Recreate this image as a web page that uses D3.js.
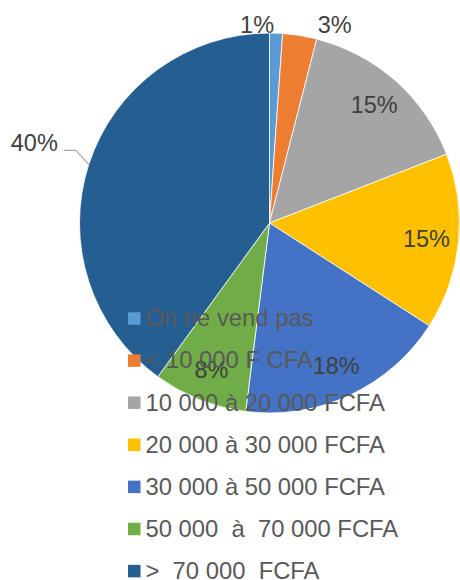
<!DOCTYPE html>
<html>
<head>
<meta charset="utf-8">
<script src="https://cdn.jsdelivr.net/npm/d3@7"></script>
<style>
  body { margin: 0; background: #fff; }
  svg { display: block; font-family: Arial, "Liberation Sans", sans-serif; }
</style>
</head>
<body>
<svg id="pie" width="460" height="580"></svg>
<script>
const categories = [
  "On ne vend pas",
  "< 10 000 F CFA",
  "10 000 à 20 000 FCFA",
  "20 000 à 30 000 FCFA",
  "30 000 à 50 000 FCFA",
  "50 000  à  70 000 FCFA",
  ">  70 000  FCFA"
];
const values = [1.1, 2.9, 15.1, 15.0, 17.9, 8.0, 40.0];
const labels = ["1%", "3%", "15%", "15%", "18%", "8%", "40%"];
const colors = ["#5b9bd5", "#ed7d31", "#a5a5a5", "#ffc000", "#4472c4", "#70ad47", "#255e91"];

const svg = d3.select('#pie');
const cx = 269.5, cy = 223, radius = 190;

const data = categories.map((c, i) => ({ name: c, value: values[i], label: labels[i], color: colors[i] }));

const pie = d3.pie().sort(null).value(d => d.value);
const arcs = pie(data);
const arc = d3.arc().innerRadius(0).outerRadius(radius);
const inner = d3.arc().innerRadius(0).outerRadius(radius * 1.66);
const outer = d3.arc().innerRadius(radius).outerRadius(radius);

const g = svg.append('g').attr('transform', `translate(${cx},${cy})`);

g.selectAll('path.slice')
  .data(arcs)
  .enter().append('path')
  .attr('class', 'slice')
  .attr('d', arc)
  .attr('fill', d => d.data.color)
  .attr('stroke', '#fff')
  .attr('stroke-width', 0.8);

// labels: inside for big slices, outside for the small ones
const labelG = g.append('g')
  .style('font-size', '23.5px')
  .style('fill', '#404040');

arcs.forEach((d, i) => {
  const [ox, oy] = outer.centroid(d);
  if (i === 0) {
    labelG.append('text').attr('x', ox - 2).attr('y', oy).attr('text-anchor', 'end').text(d.data.label);
  } else if (i === 1) {
    labelG.append('text').attr('x', ox + 18).attr('y', oy - 2).attr('text-anchor', 'start').text(d.data.label);
  } else if (i === 6) {
    const elbowX = ox - 13, elbowY = oy - 14;
    g.append('path')
      .attr('d', d3.line()([[ox, oy], [elbowX, elbowY], [elbowX - 12, elbowY]]))
      .attr('fill', 'none')
      .attr('stroke', '#a6a6a6')
      .attr('stroke-width', 1.2);
    labelG.append('text').attr('x', elbowX - 18).attr('y', elbowY + 0.7).attr('text-anchor', 'end').text(d.data.label);
  } else {
    const [lx, ly] = inner.centroid(d);
    labelG.append('text').attr('x', lx).attr('y', ly).attr('dy', '0.35em')
      .attr('text-anchor', 'middle').text(d.data.label);
  }
});

// legend
const legendX = 128, legendY = 318.5, rowH = 42.1, sw = 12.5;
const legend = svg.append('g').attr('transform', `translate(${legendX},${legendY})`);
const rows = legend.selectAll('g')
  .data(data)
  .enter().append('g')
  .attr('transform', (d, i) => `translate(0,${i * rowH})`);

rows.append('rect')
  .attr('x', 0).attr('y', -sw / 2)
  .attr('width', sw).attr('height', sw)
  .attr('fill', d => d.color);

rows.append('text')
  .attr('x', 17.5).attr('y', 0).attr('dy', '0.33em')
  .style('font-size', '23.8px')
  .style('fill', '#595959')
  .style('white-space', 'pre')
  .attr('xml:space', 'preserve')
  .text(d => d.name);
</script>
</body>
</html>
